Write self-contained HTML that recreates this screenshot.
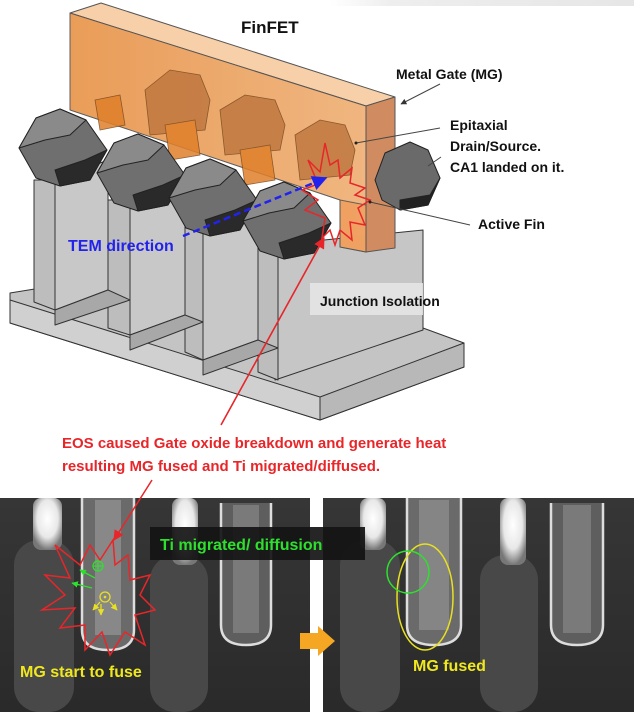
<!DOCTYPE html>
<html><head><meta charset="utf-8"><style>
html,body{margin:0;padding:0;background:#fff}
svg{display:block}
text{font-family:"Liberation Sans",Arial,sans-serif;font-weight:bold}
</style></head><body>
<svg width="634" height="712" viewBox="0 0 634 712" xmlns="http://www.w3.org/2000/svg">
<defs>
<linearGradient id="topbar" x1="0" x2="1"><stop offset="0" stop-color="#fff"/><stop offset="0.2" stop-color="#eee"/><stop offset="1" stop-color="#e6e6e6"/></linearGradient>
<linearGradient id="gate" x1="0" x2="1"><stop offset="0" stop-color="#e89850"/><stop offset="1" stop-color="#f0b27a"/></linearGradient>
<radialGradient id="blob" cx="0.5" cy="0.4" r="0.6"><stop offset="0" stop-color="#fff"/><stop offset="0.6" stop-color="#e8e8e8"/><stop offset="1" stop-color="#777"/></radialGradient>
<linearGradient id="panel" x1="0" x2="0" y1="0" y2="1"><stop offset="0" stop-color="#363636"/><stop offset="1" stop-color="#2a2a2a"/></linearGradient>
<marker id="ar" viewBox="0 0 10 10" refX="9" refY="5" markerWidth="7" markerHeight="7" orient="auto"><path d="M0,0 L10,5 L0,10 z" fill="#e8262a"/></marker>
<marker id="ab" viewBox="0 0 10 10" refX="9" refY="5" markerWidth="6" markerHeight="6" orient="auto"><path d="M0,0 L10,5 L0,10 z" fill="#2222ee"/></marker>
<marker id="ak" viewBox="0 0 10 10" refX="9" refY="5" markerWidth="6" markerHeight="6" orient="auto"><path d="M0,0 L10,5 L0,10 z" fill="#333"/></marker>
<marker id="ag" viewBox="0 0 10 10" refX="9" refY="5" markerWidth="5" markerHeight="5" orient="auto"><path d="M0,0 L10,5 L0,10 z" fill="#2ee02e"/></marker>
<marker id="ay" viewBox="0 0 10 10" refX="9" refY="5" markerWidth="5" markerHeight="5" orient="auto"><path d="M0,0 L10,5 L0,10 z" fill="#e8e020"/></marker>
</defs>
<rect x="330" y="0" width="304" height="6" fill="url(#topbar)"/>

<!-- gray base structure -->
<g stroke="#333" stroke-width="1" stroke-linejoin="round">
  <polygon points="10,293 10,323 320,420 464,367 464,343 423,328 423,250 275,250 10,293" fill="#c4c4c4"/>
  <polygon points="10,323 320,420 320,397 10,300" fill="#d0d0d0"/>
  <polygon points="320,397 320,420 464,367 464,343" fill="#b8b8b8"/>
  <polygon points="275,245 423,230 423,330 275,380" fill="#c6c6c6"/>
  <polygon points="34,180 55,180 55,310 34,302" fill="#bdbdbd"/>
  <polygon points="55,180 108,160 108,290 55,310" fill="#c8c8c8"/>
  <polygon points="108,200 130,200 130,335 108,328" fill="#bdbdbd"/>
  <polygon points="130,200 185,182 185,315 130,335" fill="#c8c8c8"/>
  <polygon points="185,225 203,225 203,360 185,352" fill="#bdbdbd"/>
  <polygon points="203,225 258,205 258,340 203,360" fill="#c8c8c8"/>
  <polygon points="258,248 278,248 278,380 258,372" fill="#bdbdbd"/>
  <polygon points="55,310 108,290 130,300 55,325" fill="#a8a8a8"/>
  <polygon points="130,335 185,315 203,322 130,350" fill="#a8a8a8"/>
  <polygon points="203,360 258,340 278,348 203,375" fill="#a8a8a8"/>
</g>
<rect x="310" y="283" width="113" height="32" fill="#e4e4e4" opacity="0.9"/>

<!-- orange gate -->
<g stroke="#555" stroke-width="1" stroke-linejoin="round">
  <polygon points="70,13 101,3 395,97 366,106" fill="#f7cfa8"/>
  <polygon points="70,13 366,106 366,252 340,247 340,200 70,110" fill="url(#gate)" opacity="0.95"/>
  <polygon points="366,106 395,97 395,248 366,252" fill="#d08c60"/>
</g>
<g stroke="#7a4a20" stroke-width="0.8" opacity="0.85">
  <polygon points="95,100 120,95 125,125 100,130" fill="#e0802a"/>
  <polygon points="145,90 170,70 200,75 210,100 205,130 150,135" fill="#c07840"/>
  <polygon points="220,110 245,95 275,100 285,125 280,150 225,155" fill="#c07840"/>
  <polygon points="295,135 320,120 345,125 355,150 350,175 300,180" fill="#c07840"/>
  <polygon points="165,125 195,120 200,155 170,160" fill="#e0802a"/>
  <polygon points="240,150 270,145 275,180 245,185" fill="#e0802a"/>
</g>

<!-- hexagons -->
<g stroke="#222" stroke-width="1" stroke-linejoin="round">
  <g>
    <polygon points="19,148 36,118 60,109 86,120 107,150 90,180 60,186 36,178" fill="#6f6f6f"/>
    <polygon points="19,148 36,118 60,109 86,120 70,135 45,140" fill="#8a8a8a"/>
    <polygon points="90,180 60,186 55,170 85,160 107,150" fill="#2a2a2a"/>
  </g>
  <g transform="translate(78,25)">
    <polygon points="19,148 36,118 60,109 86,120 107,150 90,180 60,186 36,178" fill="#6f6f6f"/>
    <polygon points="19,148 36,118 60,109 86,120 70,135 45,140" fill="#8a8a8a"/>
    <polygon points="90,180 60,186 55,170 85,160 107,150" fill="#2a2a2a"/>
  </g>
  <g transform="translate(150,50)">
    <polygon points="19,148 36,118 60,109 86,120 107,150 90,180 60,186 36,178" fill="#6f6f6f"/>
    <polygon points="19,148 36,118 60,109 86,120 70,135 45,140" fill="#8a8a8a"/>
    <polygon points="90,180 60,186 55,170 85,160 107,150" fill="#2a2a2a"/>
  </g>
  <g transform="translate(224,73)">
    <polygon points="19,148 36,118 60,109 86,120 107,150 90,180 60,186 36,178" fill="#6f6f6f"/>
    <polygon points="19,148 36,118 60,109 86,120 70,135 45,140" fill="#8a8a8a"/>
    <polygon points="90,180 60,186 55,170 85,160 107,150" fill="#2a2a2a"/>
  </g>
  <polygon points="375,180 385,153 410,142 428,150 440,178 428,205 400,210 382,200" fill="#6a6a6a"/>
  <polygon points="400,210 428,205 440,178 430,195 400,200" fill="#222"/>
</g>
<polygon points="340,200 366,205 366,252 340,247" fill="#f0a060" stroke="#555" stroke-width="1" opacity="0.9"/>

<polygon points="325,143 330,165 338,160 340,178 352,168 350,183 365,188 355,195 370,200 358,208 365,225 350,222 352,240 340,230 335,245 330,230 322,238 325,218 305,210 318,200 302,190 318,184 308,160 320,172" fill="none" stroke="#e8262a" stroke-width="1.5"/>
<line x1="221" y1="425" x2="324" y2="238" stroke="#e8262a" stroke-width="1.6" marker-end="url(#ar)"/>
<line x1="183" y1="236" x2="326" y2="178" stroke="#2222ee" stroke-width="2.5" stroke-dasharray="7,4" marker-end="url(#ab)"/>

<g stroke="#444" stroke-width="1" fill="none">
  <line x1="440" y1="84" x2="401" y2="104" marker-end="url(#ak)"/>
  <line x1="440" y1="128" x2="356" y2="143"/>
  <line x1="441" y1="157" x2="428" y2="166"/>
  <line x1="470" y1="225" x2="370" y2="202"/>
</g>
<circle cx="356" cy="143" r="1.5" fill="#222"/>
<circle cx="370" cy="202" r="1.5" fill="#222"/>

<text x="241" y="33" font-size="17" fill="#111">FinFET</text>
<text x="396" y="79" font-size="14" fill="#111">Metal Gate (MG)</text>
<text x="450" y="130" font-size="14" fill="#111">Epitaxial</text>
<text x="450" y="151" font-size="14" fill="#111">Drain/Source.</text>
<text x="450" y="172" font-size="14" fill="#111">CA1 landed on it.</text>
<text x="478" y="229" font-size="14" fill="#111">Active Fin</text>
<text x="68" y="251" font-size="16" fill="#2222ee">TEM direction</text>
<text x="320" y="306" font-size="14" fill="#111">Junction Isolation</text>
<text x="62" y="448" font-size="15" fill="#e8262a">EOS caused Gate oxide breakdown and generate heat</text>
<text x="62" y="471" font-size="15" fill="#e8262a">resulting MG fused and Ti migrated/diffused.</text>

<rect x="0" y="498" width="310" height="214" fill="url(#panel)"/>
<rect x="323" y="498" width="311" height="214" fill="url(#panel)"/>
<g>
  <rect x="14" y="540" width="60" height="172" rx="25" fill="#484848"/>
  <rect x="150" y="555" width="58" height="157" rx="25" fill="#484848"/>
  <rect x="33" y="498" width="29" height="52" rx="8" fill="url(#blob)"/>
  <rect x="172" y="498" width="26" height="67" rx="8" fill="url(#blob)"/>
  <path d="M82,498 V630 Q82,650 108,650 Q134,650 134,630 V498" fill="#6a6a6a" stroke="#ddd" stroke-width="2.5"/>
  <rect x="95" y="500" width="26" height="135" fill="#888"/>
  <path d="M221,503 V625 Q221,645 246,645 Q271,645 271,625 V503" fill="#5e5e5e" stroke="#ddd" stroke-width="2.5"/>
  <rect x="233" y="505" width="26" height="128" fill="#7a7a7a"/>
</g>
<g>
  <rect x="340" y="540" width="60" height="172" rx="25" fill="#484848"/>
  <rect x="480" y="555" width="58" height="157" rx="25" fill="#484848"/>
  <rect x="360" y="498" width="26" height="52" rx="8" fill="url(#blob)"/>
  <rect x="500" y="498" width="26" height="67" rx="8" fill="url(#blob)"/>
  <path d="M407,498 V625 Q407,645 434,645 Q461,645 461,625 V498" fill="#6a6a6a" stroke="#ddd" stroke-width="2.5"/>
  <rect x="419" y="500" width="30" height="130" fill="#858585"/>
  <path d="M551,503 V625 Q551,645 577,645 Q603,645 603,625 V503" fill="#5e5e5e" stroke="#ddd" stroke-width="2.5"/>
  <rect x="563" y="505" width="28" height="128" fill="#7a7a7a"/>
</g>
<rect x="150" y="527" width="215" height="33" fill="#141414" opacity="0.92"/>
<text x="160" y="550" font-size="16" fill="#2ee02e">Ti migrated/ diffusion</text>

<polygon points="113,540 115,565 128,555 130,580 150,575 140,595 155,610 135,615 145,645 125,632 110,655 102,632 85,650 85,625 60,628 75,608 42,610 65,595 45,575 70,578 55,545 80,565 90,545 100,560" fill="none" stroke="#e8262a" stroke-width="1.5"/>
<line x1="152" y1="480" x2="114" y2="540" stroke="#e8262a" stroke-width="1.5" marker-end="url(#ar)"/>
<circle cx="98" cy="566" r="5" fill="none" stroke="#2ee02e" stroke-width="1.3"/>
<path d="M93,566h10M98,561v10" stroke="#2ee02e" stroke-width="1.2"/>
<line x1="95" y1="578" x2="80" y2="570" stroke="#2ee02e" stroke-width="1.3" marker-end="url(#ag)"/>
<line x1="92" y1="588" x2="72" y2="583" stroke="#2ee02e" stroke-width="1.3" marker-end="url(#ag)"/>
<circle cx="105" cy="597" r="5" fill="none" stroke="#e8e020" stroke-width="1.3"/>
<circle cx="105" cy="597" r="1.3" fill="#e8e020"/>
<line x1="100" y1="602" x2="93" y2="610" stroke="#e8e020" stroke-width="1.3" marker-end="url(#ay)"/>
<line x1="101" y1="604" x2="101" y2="615" stroke="#e8e020" stroke-width="1.3" marker-end="url(#ay)"/>
<line x1="110" y1="602" x2="117" y2="610" stroke="#e8e020" stroke-width="1.3" marker-end="url(#ay)"/>
<text x="20" y="677" font-size="16" fill="#f0e81e">MG start to fuse</text>

<polygon points="300,633 318,633 318,626 335,641 318,656 318,649 300,649" fill="#f5a623"/>

<ellipse cx="425" cy="597" rx="28" ry="53" fill="none" stroke="#e8e020" stroke-width="1.5"/>
<circle cx="408" cy="572" r="21" fill="none" stroke="#2ee02e" stroke-width="1.5"/>
<text x="413" y="671" font-size="16" fill="#f0e81e">MG fused</text>
</svg>
</body></html>
